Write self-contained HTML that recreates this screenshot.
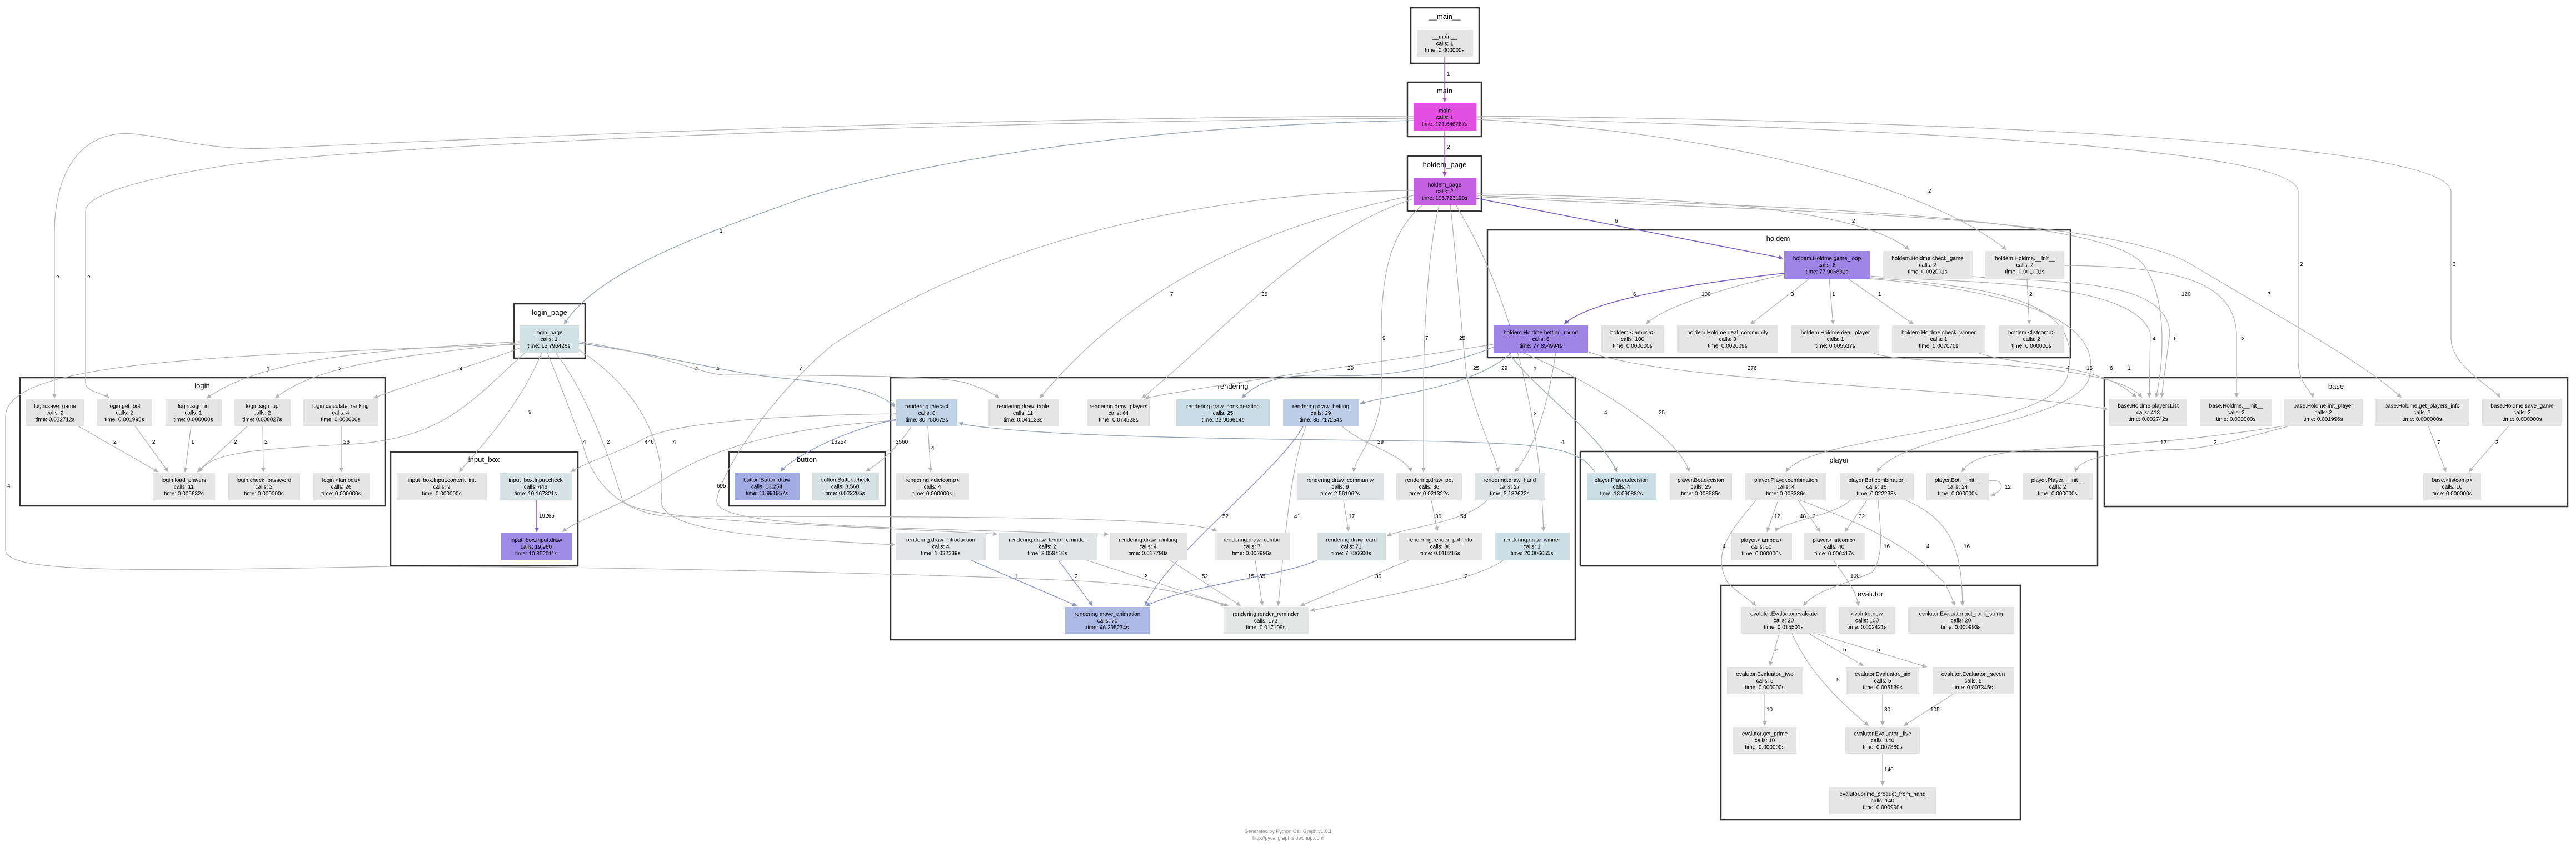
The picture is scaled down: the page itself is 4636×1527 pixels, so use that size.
<!DOCTYPE html>
<html><head><meta charset="utf-8"><style>
html,body{margin:0;padding:0;background:#fff;}
svg{display:block;}
.n{font-family:"Liberation Sans",sans-serif;font-size:10px;text-anchor:middle;fill:#000;}
.c{font-family:"Liberation Sans",sans-serif;font-size:13px;text-anchor:middle;fill:#000;}
.l{font-family:"Liberation Sans",sans-serif;font-size:10px;fill:#000;}
.cl{fill:none;stroke:#333;stroke-width:2.5;}
.g{fill:none;stroke:#b3b3b3;stroke-width:1.3;marker-end:url(#mg);}
.b{fill:none;stroke:#98a6b6;stroke-width:1.4;marker-end:url(#mb);}
.p{fill:none;stroke:#7a60c2;stroke-width:1.6;marker-end:url(#mp);}
.m{fill:none;stroke:#a94fc0;stroke-width:1.3;marker-end:url(#mm);}
.v{fill:none;stroke:#8a96c8;stroke-width:1.4;marker-end:url(#mv);}
.f{font-family:"Liberation Sans",sans-serif;font-size:9px;text-anchor:middle;fill:#888;}
</style></head><body>
<svg width="4636" height="1527" viewBox="0 0 4636 1527" xmlns="http://www.w3.org/2000/svg">
<defs>
<marker id="mg" viewBox="0 0 10 10" refX="10" refY="5" markerWidth="10" markerHeight="8" markerUnits="userSpaceOnUse" orient="auto"><path d="M0,0L10,5L0,10z" fill="#b3b3b3"/></marker>
<marker id="mb" viewBox="0 0 10 10" refX="10" refY="5" markerWidth="10" markerHeight="8" markerUnits="userSpaceOnUse" orient="auto"><path d="M0,0L10,5L0,10z" fill="#98a6b6"/></marker>
<marker id="mp" viewBox="0 0 10 10" refX="10" refY="5" markerWidth="10" markerHeight="8" markerUnits="userSpaceOnUse" orient="auto"><path d="M0,0L10,5L0,10z" fill="#7a60c2"/></marker>
<marker id="mm" viewBox="0 0 10 10" refX="10" refY="5" markerWidth="10" markerHeight="8" markerUnits="userSpaceOnUse" orient="auto"><path d="M0,0L10,5L0,10z" fill="#a94fc0"/></marker>
<marker id="mv" viewBox="0 0 10 10" refX="10" refY="5" markerWidth="10" markerHeight="8" markerUnits="userSpaceOnUse" orient="auto"><path d="M0,0L10,5L0,10z" fill="#8a96c8"/></marker>
</defs>
<rect width="4636" height="1527" fill="#fff"/>

<!-- clusters -->
<rect class="cl" x="2539" y="14" width="123" height="100"/><text class="c" x="2600" y="34">__main__</text>
<rect class="cl" x="2533" y="148" width="133" height="98"/><text class="c" x="2600" y="168">main</text>
<rect class="cl" x="2533" y="281" width="133" height="99"/><text class="c" x="2600" y="301">holdem_page</text>
<rect class="cl" x="925" y="547" width="128" height="98"/><text class="c" x="989" y="567">login_page</text>
<rect class="cl" x="36" y="680" width="657" height="231"/><text class="c" x="364" y="699">login</text>
<rect class="cl" x="703" y="814" width="337" height="205"/><text class="c" x="871" y="832">input_box</text>
<rect class="cl" x="1312" y="814" width="281" height="97"/><text class="c" x="1452" y="832">button</text>
<rect class="cl" x="1603" y="680" width="1232" height="472"/><text class="c" x="2219" y="700">rendering</text>
<rect class="cl" x="2677" y="414" width="1049" height="230"/><text class="c" x="3200" y="434">holdem</text>
<rect class="cl" x="2844" y="813" width="931" height="206"/><text class="c" x="3310" y="833">player</text>
<rect class="cl" x="3787" y="680" width="834" height="232"/><text class="c" x="4204" y="700">base</text>
<rect class="cl" x="3097" y="1054" width="539" height="422"/><text class="c" x="3366" y="1074">evalutor</text>

<!-- edges -->
<path class="m" d="M2600,102 L2600,184"/><text class="l" x="2604" y="136">1</text>
<path class="m" d="M2600,236 L2600,318"/><text class="l" x="2604" y="268">2</text>
<path class="g" d="M2544,209 C1600,212 700,258 482,267 C360,272 270,236 214,241 C130,250 98,330 98,420 L98,717"/><text class="l" x="101" y="503">2</text>
<path class="g" d="M2544,213 C1600,220 700,262 420,296 C200,330 154,360 154,380 L154,690 C154,705 190,710 196,717"/><text class="l" x="157" y="503">2</text>
<path class="b" d="M2544,217 C2100,225 1700,280 1450,355 C1300,410 1080,480 1015,584"/><text class="l" x="1295" y="419">1</text>
<path class="g" d="M2657,215 C3050,235 3450,320 3611,450"/><text class="l" x="3470" y="347">2</text>
<path class="g" d="M2657,212 C3300,230 4136,260 4136,345 L4136,650 C4136,690 4160,705 4163,716"/><text class="l" x="4139" y="479">2</text>
<path class="g" d="M2657,209 C3400,215 4411,250 4411,345 L4411,610 C4411,660 4490,700 4499,716"/><text class="l" x="4414" y="479">3</text>
<path class="p" d="M2657,357 L3209,465"/><text class="l" x="2906" y="401">6</text>
<path class="g" d="M2657,349 C3000,355 3340,370 3436,450"/><text class="l" x="3333" y="401">2</text>
<path class="g" d="M2657,352 C3100,370 3800,380 3860,480 C3900,540 3895,650 3880,716"/><text class="l" x="3926" y="533">120</text>
<path class="g" d="M2657,354 C3100,380 3800,380 3950,480 C4100,570 4250,650 4322,716"/><text class="l" x="4081" y="533">7</text>
<path class="g" d="M2544,352 C2300,400 2050,500 1871,717"/><text class="l" x="2106" y="533">7</text>
<path class="g" d="M2544,358 C2350,420 2200,600 2055,717"/><text class="l" x="2270" y="533">35</text>
<path class="g" d="M2544,343 C2200,345 1800,420 1500,620 C1400,700 1300,840 1290,900 C1285,945 1500,948 1995,962"/><text class="l" x="1438" y="667">7</text>
<text class="l" x="1290" y="878">695</text>
<path class="g" d="M2560,369 C2500,420 2486,500 2486,600 L2486,700 C2486,780 2440,820 2436,850"/><text class="l" x="2488" y="612">9</text>
<path class="g" d="M2590,369 C2570,450 2562,600 2562,700 L2562,850"/><text class="l" x="2565" y="612">7</text>
<path class="g" d="M2610,369 C2620,450 2630,600 2640,680 C2660,760 2690,820 2697,850"/><text class="l" x="2626" y="612">25</text>
<path class="g" d="M2620,369 C2700,500 2770,700 2778,957"/><text class="l" x="2760" y="667">1</text>
<path class="p" d="M3211,492 C3050,510 2860,540 2815,584"/><text class="l" x="2939" y="533">6</text>
<path class="g" d="M3211,495 C3090,520 2980,560 2963,584"/><text class="l" x="3062" y="533">100</text>
<path class="g" d="M3256,502 L3150,584"/><text class="l" x="3223" y="533">3</text>
<path class="g" d="M3292,502 L3299,584"/><text class="l" x="3297" y="533">1</text>
<path class="g" d="M3326,502 L3444,584"/><text class="l" x="3380" y="533">1</text>
<path class="g" d="M3648,502 L3652,584"/><text class="l" x="3652" y="533">2</text>
<path class="g" d="M2858,633 C3000,690 3600,700 3794,737"/><text class="l" x="3145" y="666">276</text>
<path class="g" d="M3560,635 C3620,660 3780,650 3845,716"/><text class="l" x="3797" y="666">6</text>
<path class="g" d="M3370,635 C3420,660 3800,645 3855,716"/><text class="l" x="3829" y="666">1</text>
<path class="g" d="M3366,497 C3500,510 3840,500 3870,600 L3868,716"/><text class="l" x="3874" y="613">4</text>
<path class="g" d="M3550,498 C3700,510 3900,500 3905,600 L3890,716"/><text class="l" x="3912" y="613">6</text>
<path class="g" d="M3715,478 C3900,480 4020,500 4025,600 L4025,716"/><text class="l" x="4034" y="613">2</text>
<path class="g" d="M3366,500 C3650,520 3750,560 3720,680 C3680,780 3260,780 3214,850"/><text class="l" x="3719" y="666">4</text>
<path class="g" d="M3366,502 C3700,530 3780,600 3760,680 C3740,760 3420,780 3378,850"/><text class="l" x="3755" y="666">16</text>
<path class="b" d="M2715,635 C2760,700 2880,780 2910,850"/><text class="l" x="2887" y="746">4</text>
<path class="g" d="M2740,635 C2850,680 3020,780 3040,850"/><text class="l" x="2985" y="746">25</text>
<path class="b" d="M2688,625 C2600,660 2500,680 2400,676 C2300,672 2260,690 2235,717"/><text class="l" x="2651" y="666">25</text>
<path class="g" d="M2688,620 C2500,650 2200,690 2060,717"/><text class="l" x="2425" y="666">29</text>
<path class="b" d="M2720,635 C2650,700 2500,710 2448,727"/><text class="l" x="2702" y="666">29</text>
<path class="g" d="M2800,635 C2790,700 2770,800 2726,850"/><text class="l" x="2760" y="748">2</text>
<!-- login -->
<path class="g" d="M140,767 L285,850"/><text class="l" x="204" y="799">2</text>
<path class="g" d="M243,767 L303,850"/><text class="l" x="274" y="799">2</text>
<path class="g" d="M344,767 L333,850"/><text class="l" x="344" y="799">1</text>
<path class="g" d="M446,767 L355,850"/><text class="l" x="421" y="799">2</text>
<path class="g" d="M473,767 L474,850"/><text class="l" x="476" y="799">2</text>
<path class="g" d="M614,767 L614,850"/><text class="l" x="618" y="799">26</text>
<path class="g" d="M935,615 C700,630 480,640 372,717"/><text class="l" x="480" y="667">1</text>
<path class="g" d="M935,617 C750,640 580,650 495,717"/><text class="l" x="609" y="667">2</text>
<path class="g" d="M940,625 C850,660 740,690 672,717"/><text class="l" x="827" y="667">4</text>
<path class="g" d="M945,635 C850,720 800,790 630,800 C420,810 380,820 358,850"/>
<path class="g" d="M975,635 C940,720 880,790 826,850"/><text class="l" x="951" y="745">9</text>
<path class="g" d="M1613,745 C1400,748 1200,760 1150,795 C1100,820 1060,830 1027,850"/><text class="l" x="1160" y="799">446</text>
<path class="g" d="M1613,757 C1400,770 1280,810 1200,860 C1100,920 1040,935 1012,958"/>
<path class="v" d="M1613,755 C1500,780 1420,830 1405,849"/><text class="l" x="1496" y="799">13254</text>
<path class="g" d="M1640,768 C1620,800 1590,830 1558,849"/><text class="l" x="1612" y="799">3560</text>
<path class="p" d="M966,901 L966,958"/><text class="l" x="970" y="932">19265</text>
<path class="b" d="M1042,618 C1200,640 1300,670 1400,680 C1500,690 1580,700 1611,733"/><text class="l" x="1251" y="667">4</text>
<path class="g" d="M1042,615 C1200,640 1260,672 1300,675 C1500,676 1700,676 1740,690 C1770,700 1790,710 1798,717"/><text class="l" x="1289" y="667">4</text>
<path class="g" d="M1042,630 C1150,700 1200,800 1190,900 C1185,960 1400,970 1611,981"/><text class="l" x="1211" y="799">4</text>
<path class="g" d="M1000,635 C1050,700 1090,800 1120,900 C1140,940 1500,945 1795,962"/><text class="l" x="1092" y="799">2</text>
<path class="g" d="M985,635 C1020,720 1040,780 1049,800 C1060,850 1100,920 1200,930 C1700,930 2150,930 2190,957"/><text class="l" x="1049" y="799">4</text>
<path class="g" d="M935,620 C400,640 10,650 10,750 L10,990 C10,1030 200,1030 700,1020 C1200,1020 1900,1040 2000,1050 C2100,1058 2180,1080 2205,1091"/><text class="l" x="13" y="878">4</text>
<path class="b" d="M2870,850 C2840,800 2750,800 2600,795 C2300,790 1900,790 1740,765 C1733,764 1728,762 1725,761"/><text class="l" x="2810" y="799">4</text>
<!-- rendering -->
<path class="g" d="M1670,768 L1675,850"/><text class="l" x="1676" y="810">4</text>
<path class="v" d="M2345,768 C2300,850 2100,1000 2060,1091"/><text class="l" x="2200" y="933">52</text>
<path class="g" d="M2350,768 C2320,850 2310,1000 2300,1091"/><text class="l" x="2329" y="933">41</text>
<path class="g" d="M2416,768 C2450,800 2530,820 2540,850"/><text class="l" x="2479" y="799">29</text>
<path class="g" d="M2418,901 L2427,957"/><text class="l" x="2427" y="933">17</text>
<path class="g" d="M2576,901 L2587,957"/><text class="l" x="2583" y="933">36</text>
<path class="g" d="M2676,901 C2640,940 2530,950 2496,965"/><text class="l" x="2628" y="933">54</text>
<path class="v" d="M1748,1009 L1938,1091"/><text class="l" x="1826" y="1041">1</text>
<path class="v" d="M1905,1009 L1966,1091"/><text class="l" x="1934" y="1041">2</text>
<path class="g" d="M1956,1009 L2211,1091"/><text class="l" x="2059" y="1041">2</text>
<path class="g" d="M2106,1009 L2233,1091"/><text class="l" x="2163" y="1041">52</text>
<path class="g" d="M2259,1009 L2272,1091"/><text class="l" x="2266" y="1041">35</text>
<path class="v" d="M2370,1009 C2300,1040 2150,1050 2062,1091"/><text class="l" x="2246" y="1041">15</text>
<path class="g" d="M2535,1009 L2340,1091"/><text class="l" x="2475" y="1041">36</text>
<path class="g" d="M2705,1009 C2650,1050 2450,1080 2358,1100"/><text class="l" x="2636" y="1041">2</text>
<!-- player / evaluator -->
<path class="g" d="M3200,901 L3180,958"/><text class="l" x="3193" y="933">12</text>
<path class="g" d="M3236,901 L3276,958"/><text class="l" x="3262" y="933">3</text>
<path class="g" d="M3330,901 C3300,930 3200,940 3196,958"/><text class="l" x="3239" y="933">48</text>
<path class="g" d="M3360,901 L3320,958"/><text class="l" x="3345" y="933">32</text>
<path class="g" d="M3580,866 C3605,860 3612,884 3582,892"/><text class="l" x="3608" y="880">12</text>
<path class="g" d="M3160,901 C3110,960 3080,1000 3110,1050 C3130,1070 3150,1080 3160,1091"/><text class="l" x="3100" y="987">4</text>
<path class="g" d="M3380,901 C3385,960 3390,1000 3370,1030 C3330,1050 3270,1060 3245,1091"/><text class="l" x="3390" y="987">16</text>
<path class="g" d="M3300,1009 C3320,1040 3340,1060 3345,1091"/><text class="l" x="3330" y="1040">100</text>
<path class="g" d="M3240,901 C3400,960 3450,1000 3500,1050 C3510,1070 3515,1080 3517,1091"/><text class="l" x="3467" y="987">4</text>
<path class="g" d="M3430,901 C3520,940 3530,1000 3532,1091"/><text class="l" x="3534" y="987">16</text>
<path class="g" d="M4111,767 C3900,800 3800,800 3700,807 C3560,815 3545,830 3530,850"/><text class="l" x="3888" y="800">12</text>
<path class="g" d="M4120,767 C4000,800 3960,810 3900,810 C3780,815 3740,830 3735,850"/><text class="l" x="3984" y="800">2</text>
<path class="g" d="M4370,767 L4402,850"/><text class="l" x="4386" y="800">7</text>
<path class="g" d="M4515,767 L4443,850"/><text class="l" x="4491" y="800">3</text>
<path class="g" d="M3202,1141 L3185,1199"/><text class="l" x="3195" y="1173">5</text>
<path class="g" d="M3225,1141 C3260,1220 3330,1280 3363,1307"/><text class="l" x="3305" y="1227">5</text>
<path class="g" d="M3256,1141 L3354,1199"/><text class="l" x="3317" y="1173">5</text>
<path class="g" d="M3269,1141 L3468,1201"/><text class="l" x="3378" y="1173">5</text>
<path class="g" d="M3176,1250 L3176,1307"/><text class="l" x="3179" y="1281">10</text>
<path class="g" d="M3388,1250 L3388,1307"/><text class="l" x="3391" y="1281">30</text>
<path class="g" d="M3515,1250 L3426,1307"/><text class="l" x="3474" y="1281">105</text>
<path class="g" d="M3388,1357 L3388,1415"/><text class="l" x="3391" y="1389">140</text>

<!-- nodes -->
<g class="n">
<rect x="2550" y="54" width="101" height="48" fill="#e5e5e5"/><text x="2600" y="69.5">__main__</text><text x="2600" y="81.5">calls: 1</text><text x="2600" y="93.5">time: 0.000000s</text>
<rect x="2544" y="186" width="113" height="50" fill="#e24de2"/><text x="2600" y="202.5">main</text><text x="2600" y="214.5">calls: 1</text><text x="2600" y="226.5">time: 121.646267s</text>
<rect x="2544" y="320" width="113" height="49" fill="#c461e2"/><text x="2600" y="336">holdem_page</text><text x="2600" y="348">calls: 2</text><text x="2600" y="360">time: 105.723198s</text>
<rect x="935" y="586" width="107" height="49" fill="#d1e0e4"/><text x="988" y="602">login_page</text><text x="988" y="614">calls: 1</text><text x="988" y="626">time: 15.796426s</text>

<rect x="47" y="719" width="104" height="48" fill="#e5e5e5"/><text x="99" y="734.5">login.save_game</text><text x="99" y="746.5">calls: 2</text><text x="99" y="758.5">time: 0.022712s</text>
<rect x="174" y="719" width="100" height="48" fill="#e5e5e5"/><text x="224" y="734.5">login.get_bot</text><text x="224" y="746.5">calls: 2</text><text x="224" y="758.5">time: 0.001995s</text>
<rect x="298" y="719" width="101" height="48" fill="#e5e5e5"/><text x="348" y="734.5">login.sign_in</text><text x="348" y="746.5">calls: 1</text><text x="348" y="758.5">time: 0.000000s</text>
<rect x="422" y="719" width="101" height="48" fill="#e5e5e5"/><text x="472" y="734.5">login.sign_up</text><text x="472" y="746.5">calls: 2</text><text x="472" y="758.5">time: 0.008027s</text>
<rect x="546" y="719" width="135" height="48" fill="#e5e5e5"/><text x="613" y="734.5">login.calculate_ranking</text><text x="613" y="746.5">calls: 4</text><text x="613" y="758.5">time: 0.000000s</text>
<rect x="275" y="852" width="112" height="49" fill="#e5e5e5"/><text x="331" y="868">login.load_players</text><text x="331" y="880">calls: 11</text><text x="331" y="892">time: 0.005632s</text>
<rect x="411" y="852" width="129" height="49" fill="#e5e5e5"/><text x="475" y="868">login.check_password</text><text x="475" y="880">calls: 2</text><text x="475" y="892">time: 0.000000s</text>
<rect x="564" y="852" width="101" height="49" fill="#e5e5e5"/><text x="614" y="868">login.&lt;lambda&gt;</text><text x="614" y="880">calls: 26</text><text x="614" y="892">time: 0.000000s</text>

<rect x="714" y="852" width="162" height="49" fill="#e5e5e5"/><text x="795" y="868">input_box.Input.content_init</text><text x="795" y="880">calls: 9</text><text x="795" y="892">time: 0.000000s</text>
<rect x="899" y="852" width="130" height="49" fill="#d6e2e4"/><text x="964" y="868">input_box.Input.check</text><text x="964" y="880">calls: 446</text><text x="964" y="892">time: 10.167321s</text>
<rect x="902" y="960" width="127" height="49" fill="#9d8ce6"/><text x="965" y="976">input_box.Input.draw</text><text x="965" y="988">calls: 19,960</text><text x="965" y="1000">time: 10.352011s</text>

<rect x="1322" y="851" width="117" height="50" fill="#a3abe3"/><text x="1380" y="867.5">button.Button.draw</text><text x="1380" y="879.5">calls: 13,254</text><text x="1380" y="891.5">time: 11.991957s</text>
<rect x="1461" y="851" width="121" height="50" fill="#d6e2e4"/><text x="1521" y="867.5">button.Button.check</text><text x="1521" y="879.5">calls: 3,560</text><text x="1521" y="891.5">time: 0.022205s</text>

<rect x="1613" y="719" width="110" height="49" fill="#c0d3e7"/><text x="1668" y="735">rendering.interact</text><text x="1668" y="747">calls: 8</text><text x="1668" y="759">time: 30.750672s</text>
<rect x="1778" y="719" width="127" height="49" fill="#e5e5e5"/><text x="1841" y="735">rendering.draw_table</text><text x="1841" y="747">calls: 11</text><text x="1841" y="759">time: 0.041133s</text>
<rect x="1957" y="719" width="112" height="49" fill="#e5e5e5"/><text x="2013" y="735">rendering.draw_players</text><text x="2013" y="747">calls: 64</text><text x="2013" y="759">time: 0.074528s</text>
<rect x="2117" y="719" width="168" height="49" fill="#c8dce5"/><text x="2201" y="735">rendering.draw_consideration</text><text x="2201" y="747">calls: 25</text><text x="2201" y="759">time: 23.906614s</text>
<rect x="2309" y="719" width="137" height="49" fill="#bccde7"/><text x="2377" y="735">rendering.draw_betting</text><text x="2377" y="747">calls: 29</text><text x="2377" y="759">time: 35.717254s</text>
<rect x="1613" y="852" width="131" height="49" fill="#e5e5e5"/><text x="1678" y="868">rendering.&lt;dictcomp&gt;</text><text x="1678" y="880">calls: 4</text><text x="1678" y="892">time: 0.000000s</text>
<rect x="2334" y="852" width="156" height="49" fill="#e0e4e5"/><text x="2412" y="868">rendering.draw_community</text><text x="2412" y="880">calls: 9</text><text x="2412" y="892">time: 2.561962s</text>
<rect x="2513" y="852" width="118" height="49" fill="#e5e5e5"/><text x="2572" y="868">rendering.draw_pot</text><text x="2572" y="880">calls: 36</text><text x="2572" y="892">time: 0.021322s</text>
<rect x="2654" y="852" width="127" height="49" fill="#dde3e5"/><text x="2717" y="868">rendering.draw_hand</text><text x="2717" y="880">calls: 27</text><text x="2717" y="892">time: 5.182622s</text>
<rect x="1613" y="959" width="161" height="50" fill="#e3e4e5"/><text x="1693" y="975.5">rendering.draw_introduction</text><text x="1693" y="987.5">calls: 4</text><text x="1693" y="999.5">time: 1.032239s</text>
<rect x="1797" y="959" width="177" height="50" fill="#e0e4e5"/><text x="1885" y="975.5">rendering.draw_temp_reminder</text><text x="1885" y="987.5">calls: 2</text><text x="1885" y="999.5">time: 2.059418s</text>
<rect x="1997" y="959" width="139" height="50" fill="#e5e5e5"/><text x="2066" y="975.5">rendering.draw_ranking</text><text x="2066" y="987.5">calls: 4</text><text x="2066" y="999.5">time: 0.017798s</text>
<rect x="2186" y="959" width="135" height="50" fill="#e5e5e5"/><text x="2253" y="975.5">rendering.draw_combo</text><text x="2253" y="987.5">calls: 7</text><text x="2253" y="999.5">time: 0.002996s</text>
<rect x="2370" y="959" width="124" height="50" fill="#d8e2e4"/><text x="2432" y="975.5">rendering.draw_card</text><text x="2432" y="987.5">calls: 71</text><text x="2432" y="999.5">time: 7.736600s</text>
<rect x="2517" y="959" width="150" height="50" fill="#e5e5e5"/><text x="2592" y="975.5">rendering.render_pot_info</text><text x="2592" y="987.5">calls: 36</text><text x="2592" y="999.5">time: 0.018216s</text>
<rect x="2690" y="959" width="135" height="50" fill="#cddfe6"/><text x="2757" y="975.5">rendering.draw_winner</text><text x="2757" y="987.5">calls: 1</text><text x="2757" y="999.5">time: 20.006655s</text>
<rect x="1917" y="1093" width="153" height="49" fill="#adb9e5"/><text x="1993" y="1109">rendering.move_animation</text><text x="1993" y="1121">calls: 70</text><text x="1993" y="1133">time: 46.295274s</text>
<rect x="2202" y="1093" width="153" height="49" fill="#e4e5e5"/><text x="2278" y="1109">rendering.render_reminder</text><text x="2278" y="1121">calls: 172</text><text x="2278" y="1133">time: 0.017109s</text>

<rect x="3211" y="452" width="155" height="50" fill="#a086e4"/><text x="3288" y="468.5">holdem.Holdme.game_loop</text><text x="3288" y="480.5">calls: 6</text><text x="3288" y="492.5">time: 77.906831s</text>
<rect x="3389" y="452" width="161" height="50" fill="#e5e5e5"/><text x="3469" y="468.5">holdem.Holdme.check_game</text><text x="3469" y="480.5">calls: 2</text><text x="3469" y="492.5">time: 0.002001s</text>
<rect x="3573" y="452" width="142" height="50" fill="#e5e5e5"/><text x="3644" y="468.5">holdem.Holdme.__init__</text><text x="3644" y="480.5">calls: 2</text><text x="3644" y="492.5">time: 0.001001s</text>
<rect x="2688" y="586" width="170" height="49" fill="#a086e4"/><text x="2773" y="602">holdem.Holdme.betting_round</text><text x="2773" y="614">calls: 6</text><text x="2773" y="626">time: 77.854994s</text>
<rect x="2882" y="586" width="113" height="49" fill="#e5e5e5"/><text x="2938" y="602">holdem.&lt;lambda&gt;</text><text x="2938" y="614">calls: 100</text><text x="2938" y="626">time: 0.000000s</text>
<rect x="3018" y="586" width="182" height="49" fill="#e5e5e5"/><text x="3109" y="602">holdem.Holdme.deal_community</text><text x="3109" y="614">calls: 3</text><text x="3109" y="626">time: 0.002009s</text>
<rect x="3224" y="586" width="158" height="49" fill="#e5e5e5"/><text x="3303" y="602">holdem.Holdme.deal_player</text><text x="3303" y="614">calls: 1</text><text x="3303" y="626">time: 0.005537s</text>
<rect x="3405" y="586" width="168" height="49" fill="#e5e5e5"/><text x="3489" y="602">holdem.Holdme.check_winner</text><text x="3489" y="614">calls: 1</text><text x="3489" y="626">time: 0.007070s</text>
<rect x="3597" y="586" width="118" height="49" fill="#e5e5e5"/><text x="3656" y="602">holdem.&lt;listcomp&gt;</text><text x="3656" y="614">calls: 2</text><text x="3656" y="626">time: 0.000000s</text>

<rect x="3796" y="718" width="140" height="49" fill="#e5e5e5"/><text x="3866" y="734">base.Holdme.playersList</text><text x="3866" y="746">calls: 413</text><text x="3866" y="758">time: 0.002742s</text>
<rect x="3960" y="718" width="128" height="49" fill="#e5e5e5"/><text x="4024" y="734">base.Holdme.__init__</text><text x="4024" y="746">calls: 2</text><text x="4024" y="758">time: 0.000000s</text>
<rect x="4111" y="718" width="141" height="49" fill="#e5e5e5"/><text x="4181" y="734">base.Holdme.init_player</text><text x="4181" y="746">calls: 2</text><text x="4181" y="758">time: 0.001996s</text>
<rect x="4274" y="718" width="170" height="49" fill="#e5e5e5"/><text x="4359" y="734">base.Holdme.get_players_info</text><text x="4359" y="746">calls: 7</text><text x="4359" y="758">time: 0.000000s</text>
<rect x="4467" y="718" width="144" height="49" fill="#e5e5e5"/><text x="4539" y="734">base.Holdme.save_game</text><text x="4539" y="746">calls: 3</text><text x="4539" y="758">time: 0.000000s</text>
<rect x="4361" y="852" width="104" height="49" fill="#e5e5e5"/><text x="4413" y="868">base.&lt;listcomp&gt;</text><text x="4413" y="880">calls: 10</text><text x="4413" y="892">time: 0.000000s</text>

<rect x="2856" y="852" width="125" height="49" fill="#ccdee6"/><text x="2918" y="868">player.Player.decision</text><text x="2918" y="880">calls: 4</text><text x="2918" y="892">time: 18.090882s</text>
<rect x="3005" y="852" width="112" height="49" fill="#e5e5e5"/><text x="3061" y="868">player.Bot.decision</text><text x="3061" y="880">calls: 25</text><text x="3061" y="892">time: 0.008585s</text>
<rect x="3141" y="852" width="146" height="49" fill="#e5e5e5"/><text x="3214" y="868">player.Player.combination</text><text x="3214" y="880">calls: 4</text><text x="3214" y="892">time: 0.003336s</text>
<rect x="3311" y="852" width="133" height="49" fill="#e5e5e5"/><text x="3377" y="868">player.Bot.combination</text><text x="3377" y="880">calls: 16</text><text x="3377" y="892">time: 0.022233s</text>
<rect x="3467" y="852" width="113" height="49" fill="#e5e5e5"/><text x="3523" y="868">player.Bot.__init__</text><text x="3523" y="880">calls: 24</text><text x="3523" y="892">time: 0.000000s</text>
<rect x="3640" y="852" width="126" height="49" fill="#e5e5e5"/><text x="3703" y="868">player.Player.__init__</text><text x="3703" y="880">calls: 2</text><text x="3703" y="892">time: 0.000000s</text>
<rect x="3116" y="960" width="109" height="49" fill="#e5e5e5"/><text x="3170" y="976">player.&lt;lambda&gt;</text><text x="3170" y="988">calls: 60</text><text x="3170" y="1000">time: 0.000000s</text>
<rect x="3246" y="960" width="111" height="49" fill="#e5e5e5"/><text x="3301" y="976">player.&lt;listcomp&gt;</text><text x="3301" y="988">calls: 40</text><text x="3301" y="1000">time: 0.006417s</text>

<rect x="3133" y="1093" width="154" height="48" fill="#e5e5e5"/><text x="3210" y="1108.5">evalutor.Evaluator.evaluate</text><text x="3210" y="1120.5">calls: 20</text><text x="3210" y="1132.5">time: 0.015501s</text>
<rect x="3309" y="1093" width="102" height="48" fill="#e5e5e5"/><text x="3360" y="1108.5">evalutor.new</text><text x="3360" y="1120.5">calls: 100</text><text x="3360" y="1132.5">time: 0.002421s</text>
<rect x="3434" y="1093" width="191" height="48" fill="#e5e5e5"/><text x="3529" y="1108.5">evalutor.Evaluator.get_rank_string</text><text x="3529" y="1120.5">calls: 20</text><text x="3529" y="1132.5">time: 0.000993s</text>
<rect x="3108" y="1201" width="137" height="49" fill="#e5e5e5"/><text x="3176" y="1217">evalutor.Evaluator._two</text><text x="3176" y="1229">calls: 5</text><text x="3176" y="1241">time: 0.000000s</text>
<rect x="3322" y="1201" width="132" height="49" fill="#e5e5e5"/><text x="3388" y="1217">evalutor.Evaluator._six</text><text x="3388" y="1229">calls: 5</text><text x="3388" y="1241">time: 0.005139s</text>
<rect x="3478" y="1201" width="146" height="49" fill="#e5e5e5"/><text x="3551" y="1217">evalutor.Evaluator._seven</text><text x="3551" y="1229">calls: 5</text><text x="3551" y="1241">time: 0.007345s</text>
<rect x="3119" y="1309" width="114" height="48" fill="#e5e5e5"/><text x="3176" y="1324.5">evalutor.get_prime</text><text x="3176" y="1336.5">calls: 10</text><text x="3176" y="1348.5">time: 0.000000s</text>
<rect x="3321" y="1309" width="134" height="48" fill="#e5e5e5"/><text x="3388" y="1324.5">evalutor.Evaluator._five</text><text x="3388" y="1336.5">calls: 140</text><text x="3388" y="1348.5">time: 0.007380s</text>
<rect x="3292" y="1417" width="192" height="49" fill="#e5e5e5"/><text x="3388" y="1433">evalutor.prime_product_from_hand</text><text x="3388" y="1445">calls: 140</text><text x="3388" y="1457">time: 0.000998s</text>
</g>

<text class="f" x="2318" y="1500">Generated by Python Call Graph v1.0.1</text>
<text class="f" x="2318" y="1512">http://pycallgraph.slowchop.com</text>
</svg>
</body></html>
